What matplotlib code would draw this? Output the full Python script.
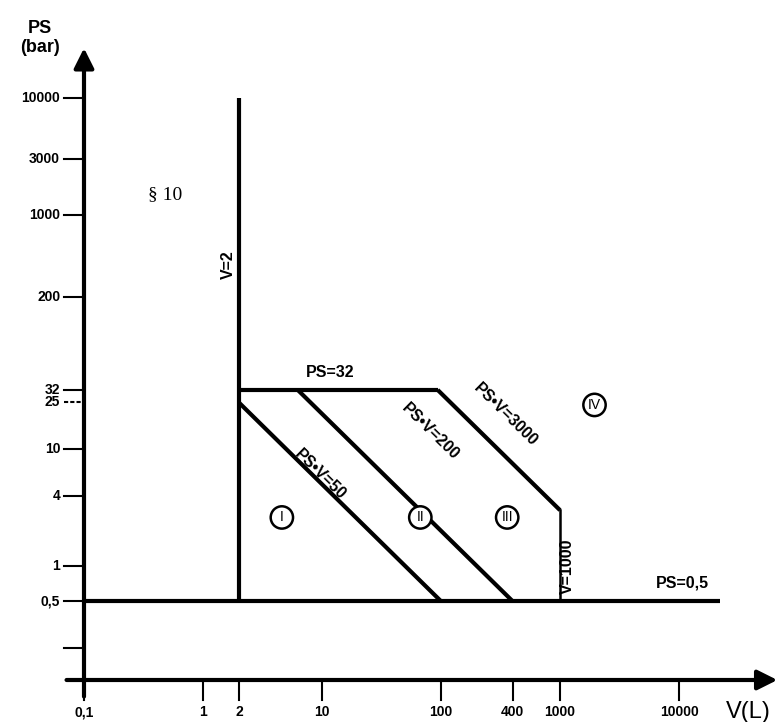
import numpy as np
from matplotlib import pyplot as plt

# tick values (schematic PED category chart, log-log)
x_ticks = [0.1, 1, 2, 10, 100, 400, 1000, 10000]
x_labels = ['0,1', '1', '2', '10', '100', '400', '1000', '10000']
y_ticks = [0.5, 1, 4, 10, 25, 32, 200, 1000, 3000, 10000]
y_labels = ['0,5', '1', '4', '10', '25', '32', '200', '1000', '3000', '10000']
y_extra = [0.2]

# boundary lines (V, PS)
v2_line = ([2, 2], [0.5, 10000])
ps05_line = ([0.1, 22000], [0.5, 0.5])
ps32_line = ([2, 93.75], [32, 32])
psv3000 = ([93.75, 1000], [32, 3])
v1000_line = ([1000, 1000], [3, 0.5])
psv50 = ([2, 100], [25, 0.5])
psv200 = ([6.25, 400], [32, 0.5])

# pixel mapping: x = 84 + 119*(log v + 1), y = 566 - 117*log p
xmin = 10 ** (-1 - 84 / 119)
xmax = 10 ** (-1 + (781 - 84) / 119)
ymin = 10 ** (-(722 - 566) / 117)
ymax = 10 ** (566 / 117)
ax_y = 10 ** (-(680 - 566) / 117)

fig = plt.figure(figsize=(7.81, 7.22), dpi=100)
ax = fig.add_axes([0, 0, 1, 1])
ax.set_xscale('log')
ax.set_yscale('log')
ax.set_xlim(xmin, xmax)
ax.set_ylim(ymin, ymax)
ax.axis('off')

lw = 3
for xs, ys in [v2_line, ps05_line, ps32_line, psv3000, psv50, psv200]:
    ax.plot(xs, ys, color='black', lw=lw, solid_capstyle='butt')
ax.plot(*v1000_line, color='black', lw=1.8)

# axes with arrows
ax.annotate('', xy=(10 ** 4.85, ax_y), xytext=(10 ** -1.17, ax_y),
            arrowprops=dict(arrowstyle='-|>', color='black', lw=3, mutation_scale=30))
ax.annotate('', xy=(0.1, 10 ** 4.45), xytext=(0.1, 10 ** -1.14),
            arrowprops=dict(arrowstyle='-|>', color='black', lw=3, mutation_scale=30))

f = dict(family='Liberation Sans', weight='bold', size=10)
tx0 = 10 ** -1.17
for t, l in zip(y_ticks, y_labels):
    ax.plot([tx0, 0.1], [t, t], color='black', lw=1.5, ls=(0, (2, 1)) if t == 25 else '-')
    ax.text(10 ** -1.2, t, l, ha='right', va='center', **f)
for t in y_extra:
    ax.plot([tx0, 0.1], [t, t], color='black', lw=1.5)
ty0 = 10 ** (-(700 - 566) / 117)
for t, l in zip(x_ticks, x_labels):
    ax.plot([t, t], [ty0, ax_y], color='black', lw=1.5)
    ax.text(t, 10 ** -1.25, l, ha='center', va='center', **f)

fl = dict(family='Liberation Sans', weight='bold', size=11.5)
ax.text(1.65, 373, 'V=2', rotation=90, ha='center', va='center', **fl)
ax.text(11.7, 45, 'PS=32', ha='center', va='center', **fl)
ax.text(9.6, 6, 'PS•V=50', rotation=-44.5, ha='center', va='center', **fl)
ax.text(81, 14, 'PS•V=200', rotation=-44.5, ha='center', va='center', **fl)
ax.text(350, 19.5, 'PS•V=3000', rotation=-44.5, ha='center', va='center', **fl)
ax.text(1150, 1.0, 'V=1000', rotation=90, ha='center', va='center', **fl)
ax.text(10700, 0.72, 'PS=0,5', ha='center', va='center', **fl)
ax.text(0.48, 1480, '§ 10', ha='center', va='center', family='Liberation Serif', size=14)

circ = dict(boxstyle='circle,pad=0.3', fc='white', ec='black', lw=1.8)
for v, p, s in [(4.6, 2.6, 'I'), (67, 2.6, 'II'), (360, 2.6, 'III'), (1950, 23.8, 'IV')]:
    ax.text(v, p, s, ha='center', va='center', family='Liberation Sans', size=10,
            bbox=circ)

ax.text(10 ** (-1 - 44 / 119), 10 ** ((566 - 38) / 117), 'PS\n(bar)', ha='center',
        va='center', family='Liberation Sans', weight='bold', size=13, linespacing=1.1)
ax.text(10 ** (-1 + 664 / 119), 10 ** -1.25, 'V(L)', ha='center', va='center',
        family='Liberation Sans', size=17)

plt.savefig('out.png', dpi=100)
